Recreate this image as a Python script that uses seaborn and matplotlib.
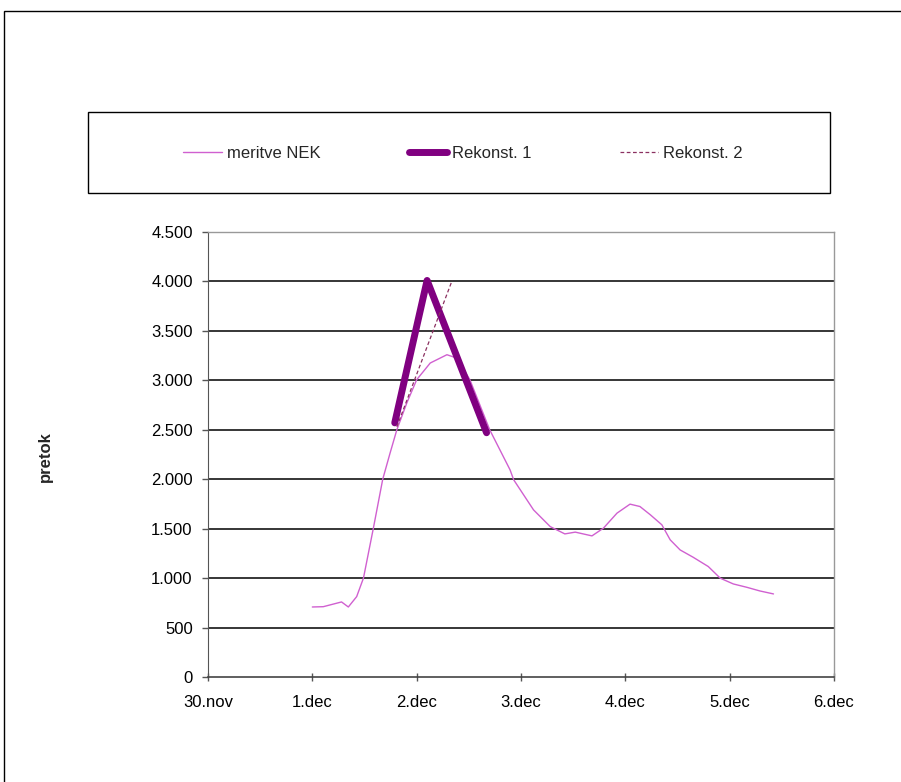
import matplotlib
matplotlib.use("Agg")
import matplotlib.pyplot as plt
import seaborn as sns
import pandas as pd
from matplotlib.patches import Rectangle

# days counted from 30.nov
nek_day = [1.00, 1.105, 1.28, 1.345, 1.425, 1.49, 1.585, 1.675, 1.745, 1.81, 1.905,
           2.00, 2.13, 2.29, 2.385, 2.51, 2.70, 2.895, 2.93, 3.12, 3.28, 3.42, 3.52, 3.68,
           3.79, 3.92, 4.045, 4.14, 4.24, 4.35, 4.43, 4.525, 4.65, 4.795, 4.91, 5.035,
           5.165, 5.29, 5.42]
nek_val = [708, 711, 759, 708, 813, 1000, 1505, 2001, 2264, 2500, 2770,
           3006, 3175, 3259, 3225, 3006, 2500, 2095, 1994, 1690, 1521, 1447, 1465, 1427,
           1505, 1657, 1748, 1724, 1640, 1539, 1387, 1285, 1211, 1117, 999, 941,
           907, 870, 840]
rek1_day = [1.79, 2.10, 2.67]
rek1_val = [2570, 4010, 2470]
rek2_day = [1.81, 2.34]
rek2_val = [2530, 4010]

x_ticks = [0, 1, 2, 3, 4, 5, 6]
x_labels = ["30.nov", "1.dec", "2.dec", "3.dec", "4.dec", "5.dec", "6.dec"]
y_ticks = [0, 500, 1000, 1500, 2000, 2500, 3000, 3500, 4000, 4500]
y_labels = ["0", "500", "1.000", "1.500", "2.000", "2.500", "3.000", "3.500", "4.000", "4.500"]

sns.set_style("white")
plt.rcParams['font.family'] = ['Liberation Sans', 'DejaVu Sans']

fig = plt.figure(figsize=(9.01, 7.82), dpi=100)
ax = fig.add_axes([208/901, 1-677/782, (834-208)/901, (677-232)/782])

nek = pd.DataFrame({"x": nek_day, "y": nek_val})
r1 = pd.DataFrame({"x": rek1_day, "y": rek1_val})
r2 = pd.DataFrame({"x": rek2_day, "y": rek2_val})

for v in y_ticks[1:-1]:
    ax.axhline(v, color="black", lw=1.1, zorder=1)

sns.lineplot(data=nek, x="x", y="y", ax=ax, color="#d060d0", lw=1.0, label="meritve NEK",
             sort=False, zorder=3)
sns.lineplot(data=r1, x="x", y="y", ax=ax, color="#800080", lw=5, label="Rekonst. 1",
             sort=False, zorder=4, solid_capstyle="round", solid_joinstyle="round")
sns.lineplot(data=r2, x="x", y="y", ax=ax, color="#8b3060", lw=0.9, label="Rekonst. 2",
             sort=False, zorder=5, linestyle=(0, (3, 2)))

ax.set_xlim(0, 6)
ax.set_ylim(0, 4500)
ax.set_xticks(x_ticks)
ax.set_xticklabels(x_labels, fontsize=12)
ax.set_yticks(y_ticks)
ax.set_yticklabels(y_labels, fontsize=12)
ax.set_xlabel("")
ax.set_ylabel("")
ax.tick_params(axis="x", direction="inout", length=6, width=1, colors="#555555",
               labelcolor="black", pad=10)
ax.tick_params(axis="y", direction="out", length=4, width=1, colors="#555555",
               labelcolor="black", pad=7)
ax.tick_params(bottom=True, left=True)
for s in ["top", "right"]:
    ax.spines[s].set_color("#999999")
    ax.spines[s].set_linewidth(1)
ax.spines["left"].set_color("#555555")
ax.spines["bottom"].set_color("#444444")
ax.spines["bottom"].set_linewidth(1.2)

fig.text(45/901, 1-457/782, "pretok", rotation=90, fontsize=12, fontweight="bold",
         ha="center", va="center")

# legend box
fig.patches.append(Rectangle((88/901, 1-193/782), (830-88)/901, (193-112)/782,
                             transform=fig.transFigure, fill=False, edgecolor="black",
                             lw=1))
handles, labels = ax.get_legend_handles_labels()
ax.get_legend().remove()
fig.legend(handles, labels, loc="center", bbox_to_anchor=(463/901, 1-153/782), ncol=3,
           frameon=False, fontsize=12, handlelength=2.3, handletextpad=0.3,
           columnspacing=5.3)

# outer frame (only left and top visible)
fig.patches.append(Rectangle((4/901, -0.05), 1.05, 1 - 11/782 + 0.05,
                             transform=fig.transFigure, fill=False, edgecolor="black",
                             lw=1))

fig.savefig("out.png", dpi=100)
